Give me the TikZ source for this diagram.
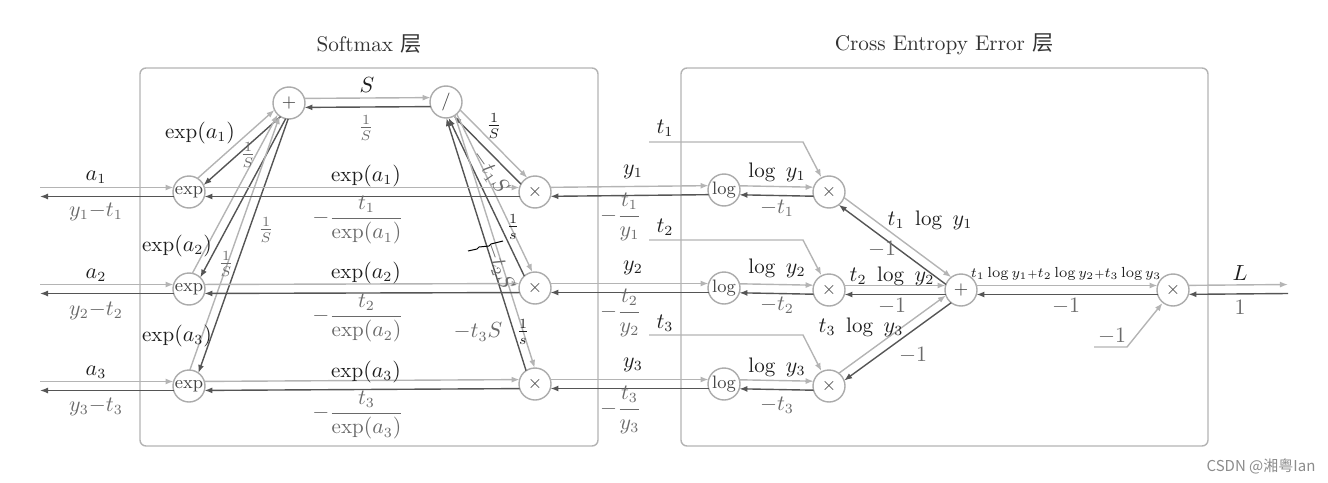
\documentclass[tikz,border=0pt]{standalone}
\usepackage{fontspec}
\usepackage{amsmath}
\usetikzlibrary{calc,arrows.meta}
\newfontfamily\cjk{Noto Sans CJK SC}
\definecolor{fwdc}{HTML}{B4B4B4}
\definecolor{bwdc}{HTML}{555555}
\definecolor{circc}{HTML}{ABABAB}
\definecolor{boxc}{HTML}{B3B3B3}
\definecolor{ftext}{HTML}{1E1E1E}
\definecolor{btext}{HTML}{6A6A6A}
\definecolor{optext}{HTML}{444444}
\definecolor{titlec}{HTML}{333333}
\newcommand\off{2.25pt}
\newcommand\rr{7.7pt}
\newcommand\biedge[4]{%
 \draw[fwd,shorten <=#3,shorten >=#4] ($(#1)!\off!90:(#2)$) -- ($(#2)!\off!-90:(#1)$);
 \draw[bwd,shorten <=#4,shorten >=#3] ($(#2)!\off!90:(#1)$) -- ($(#1)!\off!-90:(#2)$);}
\tikzset{
 op/.style={circle, draw=circc, fill=white, line width=0.7pt, minimum size=16pt, inner sep=0pt, font=\small, text=optext},
 fwd/.style={draw=fwdc, line width=0.7pt, -{Latex[length=4pt,width=3pt]}},
 bwd/.style={draw=bwdc, line width=0.7pt, -{Latex[length=4pt,width=3pt]}},
 fl/.style={text=ftext, inner sep=1pt, font=\fontsize{10.5}{12.6}\selectfont},
 bl/.style={text=btext, inner sep=1pt, font=\fontsize{10.5}{12.6}\selectfont},
 ttl/.style={text=titlec, font=\fontsize{10.6}{12.7}\selectfont},
 layerbox/.style={draw=boxc, line width=0.7pt, rounded corners=3pt},
}
\begin{document}
\begin{tikzpicture}[x=0.5pt,y=-0.5pt]
\useasboundingbox (0,0) rectangle (1328,482);
% layer boxes
\draw[layerbox] (140,68) rectangle (598,446);
\draw[layerbox] (681,68) rectangle (1208,446);
\node[ttl] (tsm) at (369,44) {Softmax {\cjk 层}};
\node[ttl] (tce) at (944,44) {Cross Entropy Error {\cjk 层}};
% operator nodes
\node[op] (plus) at (289,103) {$+$};
\node[op] (div) at (446,102) {$/$};
\node[op] (e1) at (189,192) {exp};
\node[op] (e2) at (189,289) {exp};
\node[op] (e3) at (189,386) {exp};
\node[op] (x1) at (535,192) {$\times$};
\node[op] (x2) at (535,288) {$\times$};
\node[op] (x3) at (535,384) {$\times$};
\node[op] (l1) at (724,190) {log};
\node[op] (l2) at (724,288) {log};
\node[op] (l3) at (724,384) {log};
\node[op] (m1) at (829,192) {$\times$};
\node[op] (m2) at (829,290) {$\times$};
\node[op] (m3) at (829,386) {$\times$};
\node[op] (sum) at (961,290) {$+$};
\node[op] (fin) at (1173,290) {$\times$};
% free ends
\coordinate (in1) at (40,192);
\coordinate (in2) at (40,289);
\coordinate (in3) at (40,386);
\coordinate (out) at (1288,289);
\coordinate (t1a) at (649,142); \coordinate (t1b) at (803,142);
\coordinate (t2a) at (649,240); \coordinate (t2b) at (803,240);
\coordinate (t3a) at (649,335); \coordinate (t3b) at (803,335);
\coordinate (na) at (1094,347); \coordinate (nb) at (1127,347);
% paired edges
\biedge{in1}{e1}{0pt}{\rr}
\biedge{in2}{e2}{0pt}{\rr}
\biedge{in3}{e3}{0pt}{\rr}
\biedge{e1}{plus}{\rr}{\rr}
\biedge{e2}{plus}{\rr}{\rr}
\biedge{e3}{plus}{\rr}{\rr}
\biedge{plus}{div}{\rr}{\rr}
\biedge{div}{x1}{\rr}{\rr}
\biedge{div}{x2}{\rr}{\rr}
\biedge{div}{x3}{\rr}{\rr}
\biedge{e1}{x1}{\rr}{\rr}
\biedge{e2}{x2}{\rr}{\rr}
\biedge{e3}{x3}{\rr}{\rr}
\biedge{x1}{l1}{\rr}{\rr}
\biedge{x2}{l2}{\rr}{\rr}
\biedge{x3}{l3}{\rr}{\rr}
\biedge{l1}{m1}{\rr}{\rr}
\biedge{l2}{m2}{\rr}{\rr}
\biedge{l3}{m3}{\rr}{\rr}
\biedge{m1}{sum}{\rr}{\rr}
\biedge{m2}{sum}{\rr}{\rr}
\biedge{m3}{sum}{\rr}{\rr}
\biedge{sum}{fin}{\rr}{\rr}
\biedge{fin}{out}{\rr}{0pt}
% single inputs
\draw[fwd] (t1a) -- (t1b) -- (m1);
\draw[fwd] (t2a) -- (t2b) -- (m2);
\draw[fwd] (t3a) -- (t3b) -- (m3);
\draw[fwd] (na) -- (nb) -- (fin);
% input labels
\node[fl] (la1) at (96,177) {$a_1$};
\node[bl] (lb1) at (96,212) {$y_1{-}t_1$};
\node[fl] (la2) at (96,275) {$a_2$};
\node[bl] (lb2) at (96,311) {$y_2{-}t_2$};
\node[fl] (la3) at (96,372) {$a_3$};
\node[bl] (lb3) at (96,407) {$y_3{-}t_3$};
% exp -> plus labels
\node[fl] (le1p) at (200,133) {$\exp(a_1)$};
\node[bl] (ls1p) at (248,155) {$\frac{1}{S}$};
\node[fl] (le2p) at (177,246) {$\exp(a_2)$};
\node[bl] (ls2p) at (226,264) {$\frac{1}{S}$};
\node[fl] (le3p) at (177,336) {$\exp(a_3)$};
\node[bl] (ls3p) at (266,230) {$\frac{1}{S}$};
% plus -> div
\node[fl] (lS) at (367,85) {$S$};
\node[bl] (lSi) at (366,128) {$\frac{1}{S}$};
% div -> times
\node[fl] (lq1) at (494,126) {$\frac{1}{S}$};
\node[bl,rotate=-55] (lt1S) at (490,172) {$-t_1S$};
\node[fl] (lq2) at (513,227) {$\frac{1}{s}$};
\node[bl,rotate=-70] (lt2S) at (499,266) {$-t_2S$};
\node[fl] (lq3) at (523,332) {$\frac{1}{s}$};
\node[bl] (lt3S) at (478,332) {$-t_3S$};
% exp -> times
\node[fl] (lx1) at (366,176) {$\exp(a_1)$};
\node[bl] (ld1) at (358,220) {$-\dfrac{t_1}{\exp(a_1)}$};
\node[fl] (lx2) at (366,273) {$\exp(a_2)$};
\node[bl] (ld2) at (358,318) {$-\dfrac{t_2}{\exp(a_2)}$};
\node[fl] (lx3) at (366,372) {$\exp(a_3)$};
\node[bl] (ld3) at (358,415) {$-\dfrac{t_3}{\exp(a_3)}$};
% times -> log
\node[fl] (ly1) at (633,172) {$y_1$};
\node[bl] (lty1) at (621,217) {$-\dfrac{t_1}{y_1}$};
\node[fl] (ly2) at (633,268) {$y_2$};
\node[bl] (lty2) at (621,313) {$-\dfrac{t_2}{y_2}$};
\node[fl] (ly3) at (633,365) {$y_3$};
\node[bl] (lty3) at (621,410) {$-\dfrac{t_3}{y_3}$};
% t inputs
\node[fl] (lt1) at (665,128) {$t_1$};
\node[fl] (lt2) at (665,227) {$t_2$};
\node[fl] (lt3) at (665,323) {$t_3$};
% log -> times
\node[fl] (lg1) at (777,172) {$\log\ y_1$};
\node[bl] (lm1) at (777,208) {$-t_1$};
\node[fl] (lg2) at (777,268) {$\log\ y_2$};
\node[bl] (lm2) at (777,305) {$-t_2$};
\node[fl] (lg3) at (777,367) {$\log\ y_3$};
\node[bl] (lm3) at (777,405) {$-t_3$};
% times -> sum
\node[fl] (ltl1) at (930,220) {$t_1\ \log\ y_1$};
\node[bl] (ln1) at (882,249) {$-1$};
\node[fl] (ltl2) at (892,276) {$t_2\ \log\ y_2$};
\node[bl] (ln2) at (892,306) {$-1$};
\node[fl] (ltl3) at (861,327) {$t_3\ \log\ y_3$};
\node[bl] (ln3) at (913,355) {$-1$};
% sum -> final
\node[fl,font=\fontsize{7.3}{9}\selectfont] (lsum) at (1066,274) {$t_1\log y_1{\scriptstyle+}t_2\log y_2{\scriptstyle+}t_3\log y_3$};
\node[bl] (lns) at (1066,306) {$-1$};
\node[bl] (lnin) at (1112,336) {$-1$};
\node[fl] (lL) at (1240,273) {$L$};
\node[bl] (lone) at (1240,307) {$1$};
% stray pen stroke
\draw[black, line width=0.5pt] (468,251) -- (477,249) -- (479,247) -- (489,246) -- (491,244) -- (503,241);
% watermark
\node[text=black!45, font=\fontsize{7.5}{9}\selectfont\cjk] (wm) at (1261,466) {CSDN @湘粤Ian};
\end{tikzpicture}
\end{document}
